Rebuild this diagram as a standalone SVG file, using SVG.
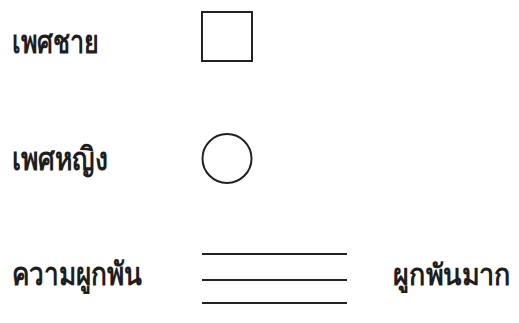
<svg xmlns="http://www.w3.org/2000/svg" width="519" height="323" viewBox="0 0 519 323">
<style>
.t{font-family:"Noto Sans","DejaVu Sans",sans-serif;font-weight:bold;font-size:32px;fill:#1e1e1e}
.s{fill:none;stroke:#222;stroke-width:2}
</style>
<rect width="519" height="323" fill="#fff"/>
<g id="male"><text class="t" x="12" y="53" textLength="87" lengthAdjust="spacingAndGlyphs">เพศชาย</text><rect class="s" x="202" y="12" width="50" height="49"/></g>
<g id="female"><text class="t" x="12" y="170" textLength="96" lengthAdjust="spacingAndGlyphs">เพศหญิง</text><circle class="s" cx="227" cy="158.5" r="24.5"/></g>
<g id="relation"><text class="t" x="12" y="285" textLength="130" lengthAdjust="spacingAndGlyphs">ความผูกพัน</text><text class="t" x="393" y="285" textLength="118" lengthAdjust="spacingAndGlyphs" style="font-size:29px">ผูกพันมาก</text></g>
<g id="connectors"><line class="s" x1="202" y1="254" x2="347" y2="254"/><line class="s" x1="202" y1="280" x2="347" y2="280"/><line class="s" x1="202" y1="303" x2="347" y2="303"/></g>
</svg>
